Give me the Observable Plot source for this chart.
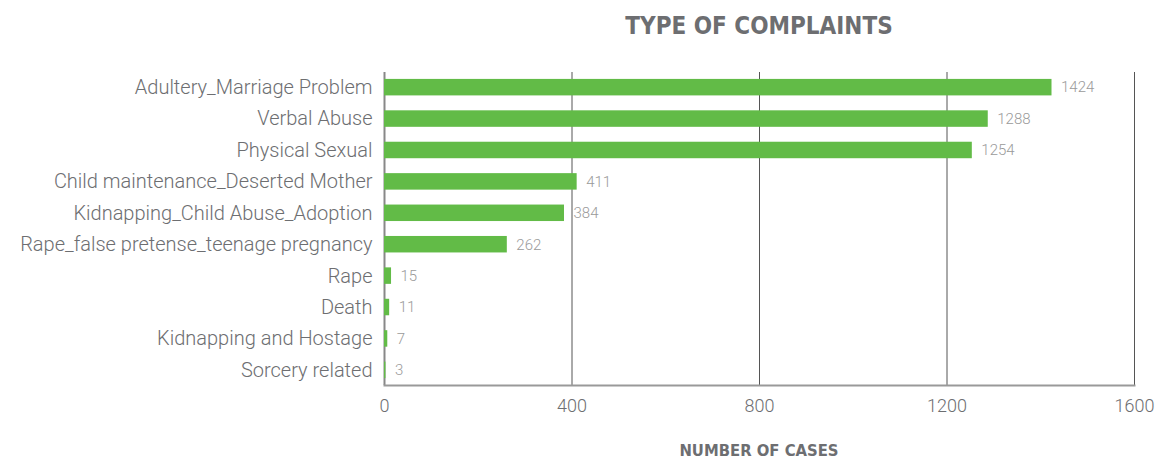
<!DOCTYPE html>
<html>
<head>
<meta charset="utf-8">
<script src="https://cdn.jsdelivr.net/npm/d3@7"></script>
<script src="https://cdn.jsdelivr.net/npm/@observablehq/plot@0.6"></script>
<style>
  html, body { margin: 0; padding: 0; background: #fff; }
  #wrap { position: relative; width: 1157px; height: 459px; }
  .title { position: absolute; left: 384px; width: 750px; top: 12px; text-align: center;
    font-family: "DejaVu Sans Condensed", "Liberation Sans Narrow", sans-serif; font-weight: bold;
    font-size: 24px; color: #6d6e71; letter-spacing: 0px; }
  .xlabel { position: absolute; left: 384px; width: 750px; top: 441px; text-align: center;
    font-family: "DejaVu Sans Condensed", "Liberation Sans Narrow", sans-serif; font-weight: bold;
    font-size: 16.5px; color: #6d6e71; letter-spacing: 0px; }
  #chart { position: absolute; left: 0; top: 0; }
</style>
</head>
<body>
<div id="wrap">
  <div id="chart"></div>
  <div class="title">TYPE OF COMPLAINTS</div>
  <div class="xlabel">NUMBER OF CASES</div>
</div>
<script>
const categories = [
  "Adultery_Marriage Problem",
  "Verbal Abuse",
  "Physical Sexual",
  "Child maintenance_Deserted Mother",
  "Kidnapping_Child Abuse_Adoption",
  "Rape_false pretense_teenage pregnancy",
  "Rape",
  "Death",
  "Kidnapping and Hostage",
  "Sorcery related"
];
const cases = [1424, 1288, 1254, 411, 384, 262, 15, 11, 7, 3];
const xTicks = [0, 400, 800, 1200, 1600];

const data = categories.map((c, i) => ({category: c, value: cases[i]}));

const chart = Plot.plot({
  width: 1157,
  height: 459,
  marginTop: 72,
  marginBottom: 74,
  marginLeft: 384,
  marginRight: 23,
  style: {fontFamily: "Roboto, sans-serif", background: "transparent"},
  x: {domain: [0, 1600], ticks: xTicks, label: null},
  y: {domain: categories, paddingInner: 0.475, paddingOuter: 0.22, round: false, label: null},
  marks: [
    Plot.ruleX(xTicks.slice(1), {stroke: "#555", strokeWidth: 1}),
    Plot.ruleX([0], {stroke: "#888", strokeWidth: 2}),
    Plot.frame({anchor: "bottom", stroke: "#999", strokeWidth: 2}),
    Plot.barX(data, {y: "category", x: "value", fill: "#62bb47"}),
    Plot.text(data, {y: "category", x: "value", text: d => String(d.value), textAnchor: "start", dx: 9,
      fill: "#9a9a9a", fontSize: 15, fontWeight: 300}),
    Plot.axisX({ticks: xTicks, tickSize: 0, tickPadding: 14, tickFormat: d => String(d), fontSize: 18, fontWeight: 300, fill: "#6d6e71", label: null}),
    Plot.axisY({tickSize: 0, tickPadding: 12, fontSize: 20, fontWeight: 300, fill: "#6d6e71", label: null})
  ]
});
document.getElementById("chart").appendChild(chart);
</script>
</body>
</html>
